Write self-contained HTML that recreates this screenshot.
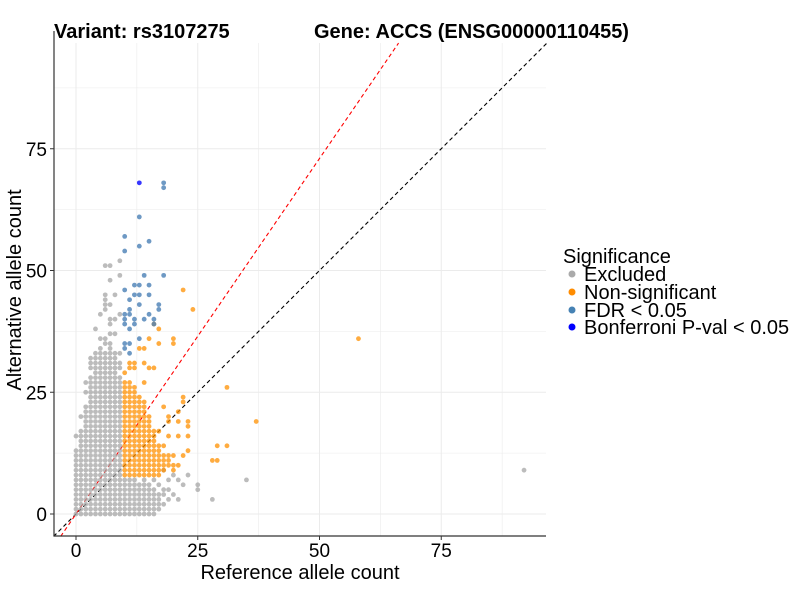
<!DOCTYPE html>
<html><head><meta charset="utf-8"><style>
body{margin:0;background:#fff;}
svg{display:block;font-family:"Liberation Sans",Arial,sans-serif;}
</style></head><body>
<svg id="chart" width="800" height="600" viewBox="0 0 800 600">
<rect width="800" height="600" fill="#fff"/>
<text x="54" y="38" font-size="20" font-weight="bold">Variant: rs3107275</text>
<text x="314" y="38" font-size="20" font-weight="bold">Gene: ACCS (ENSG00000110455)</text>
<g id="grid"></g>
<g id="lines"></g>
<g id="points"></g>
<g id="axes"></g>
<text x="300" y="579" font-size="20" text-anchor="middle">Reference allele count</text>
<text x="21" y="290" font-size="20" text-anchor="middle" transform="rotate(-90 21 290)">Alternative allele count</text>
<g>
<text x="563" y="263" font-size="20">Significance</text>
<g><circle cx="572" cy="274" r="3.5" fill="#aaaaaa"/><text x="584" y="281" font-size="20">Excluded</text></g>
<g><circle cx="572" cy="292" r="3.5" fill="#ff8c00"/><text x="584" y="299" font-size="20">Non-significant</text></g>
<g><circle cx="572" cy="310" r="3.5" fill="#4682b4"/><text x="584" y="317" font-size="20">FDR &lt; 0.05</text></g>
<g><circle cx="572" cy="327" r="3.5" fill="#0000ff"/><text x="584" y="334" font-size="20">Bonferroni P-val &lt; 0.05</text></g>
</g>
</svg>
<script>
// column-wise data: [refCount, [altCounts...]]
const greyCols = [
[0,[0,1,2,3,4,5,6,7,8,9,10,11,12,13,16]],
[1,[0,1,2,3,4,5,6,7,8,9,10,11,12,13,14,15,16,17,20]],
[2,[0,1,2,3,4,5,6,7,8,9,10,11,12,13,14,15,16,17,18,19,20,21,22,25,27]],
[3,[0,1,2,3,4,5,6,7,8,9,10,11,12,13,14,15,16,17,18,19,20,21,22,23,24,25,26,27,28,30,31,32]],
[4,[0,1,2,3,4,5,6,7,8,9,10,11,12,13,14,15,16,17,18,19,20,21,22,23,24,25,26,27,28,29,30,31,32,33,38]],
[5,[0,1,2,3,4,5,6,7,8,9,10,11,12,13,14,15,16,17,18,19,20,21,22,23,24,25,26,27,28,29,30,31,32,33,34,36,41]],
[6,[0,1,2,3,4,5,6,7,8,9,10,11,12,13,14,15,16,17,18,19,20,21,22,23,24,25,26,27,28,29,30,31,32,33,35,36,42,43,44,45,51]],
[7,[0,1,2,3,4,5,6,7,8,9,10,11,12,13,14,15,16,17,18,19,20,21,22,23,24,25,26,27,28,29,30,31,32,33,34,35,37,39,40,43,48,51]],
[8,[0,1,2,3,4,5,6,7,8,9,10,11,12,13,14,15,16,17,18,19,20,21,22,23,24,25,26,27,28,29,30,31,32,33,37,40,45]],
[9,[0,1,2,3,4,5,6,7,8,9,10,11,12,13,14,15,16,17,18,19,20,21,22,23,24,25,26,27,28,30,31,33,41,49,52]],
[10,[0,1,2,3,4,5,6,7]],[11,[0,1,2,3,4,5,6,7]],[12,[0,1,2,3,4,5,6,7]],
[13,[0,1,2,3,4,5,6]],[14,[0,1,2,3,4,5,6,7]],[15,[0,1,2,3,4,5,6]],
[16,[0,1,2,3,4,5,7]],[17,[1,2,3,4,6]],[18,[2,4,5,9]],[19,[3,5,7]],
[20,[4,8]],[21,[3,7]],[22,[6]],[23,[8]],[25,[5,6]],[28,[3]],[35,[7]],[92,[9]]
];
const orangeCols = [
[10,[8,9,10,11,12,13,14,15,16,17,18,19,20,21,22,23,24,25,26,27,29]],
[11,[8,9,10,11,12,13,14,15,16,17,18,19,20,21,22,23,24,25,26,27,30,31]],
[12,[8,9,10,11,12,13,14,15,16,17,18,19,20,21,22,23,24,25,26,30,31]],
[13,[8,9,10,11,12,13,14,15,16,17,18,19,20,21,22,23,24,34]],
[14,[8,9,10,11,12,13,14,15,16,17,18,19,20,21,22,23,27,31,34]],
[15,[8,9,10,11,12,13,14,15,16,17,18,19,20,30,36]],
[16,[8,9,10,11,12,13,14,15,16,17,30,39]],
[17,[8,9,10,11,12,13,14,17,35,38]],
[18,[9,10,11,12,14,22]],
[19,[10,11,12,16,19,20]],
[20,[9,10,12,35,36]],
[21,[10,16,19,21]],
[22,[12,23,24,46]],
[23,[13,16,18,19]],
[24,[42]],[28,[11]],[29,[11,14]],[31,[14,26]],[37,[19]],[58,[36]]
];
const fdrRef = [10,10,10,10,10,10,10,10,11,11,11,11,11,11,12,12,12,12,13,13,13,13,13,13,14,14,15,15,15,15,16,16,17,17,18,18,18];
const fdrAlt = [57,54,46,41,40,39,35,34,44,42,41,38,35,33,47,45,40,39,36,43,47,45,55,61,49,40,56,47,45,41,40,39,43,42,49,67,68];
const bonfRef = [13];
const bonfAlt = [68];
const xTicks = [0,25,50,75];
const yTicks = [0,25,50,75];
const redSlope = 1.46;

const NS='http://www.w3.org/2000/svg';
const L=54,R=546,T=43,B=536;
const sx=v=>76+v*4.87, sy=v=>514-v*4.87;
const xMin=-4.6,xMax=96.6,yMin=-4.6,yMax=96.7;
function mk(tag,attrs,parent){const e=document.createElementNS(NS,tag);for(const k in attrs)e.setAttribute(k,attrs[k]);parent.appendChild(e);return e;}
const grid=document.getElementById('grid');
for(let v=-12.5; v<=100; v+=12.5){
  if(v>=xMin&&v<=xMax){const l=mk('line',{x1:sx(v),x2:sx(v),y1:T,y2:B,stroke:'#ebebeb','stroke-width':v%25===0?1:0.6},grid);
  
  }
  if(v>=yMin&&v<=yMax){const l=mk('line',{x1:L,x2:R,y1:sy(v),y2:sy(v),stroke:'#ebebeb','stroke-width':v%25===0?1:0.6},grid);
  
  }
}
const lines=document.getElementById('lines');
const bl=mk('line',{x1:sx(xMin),y1:sy(xMin),x2:sx(xMax),y2:sy(xMax),stroke:'#000','stroke-width':1.1,'stroke-dasharray':'4 3'},lines);


const rx0=yMin/redSlope, rx1=yMax/redSlope;
const rl=mk('line',{x1:sx(rx0),y1:sy(yMin),x2:sx(rx1),y2:sy(yMax),stroke:'#ff0000','stroke-width':1.1,'stroke-dasharray':'4 3'},lines);


const pts=document.getElementById('points');
function dot(x,y,fill,op,name){const c=mk('circle',{cx:sx(x),cy:sy(y),r:2.4,fill:fill,'fill-opacity':op},pts);

}
greyCols.forEach(([x,ys])=>ys.forEach(y=>dot(x,y,'#a6a6a6',0.75,'point-excluded')));
orangeCols.forEach(([x,ys])=>ys.forEach(y=>dot(x,y,'#ff9000',0.75,'point-nonsig')));
fdrRef.forEach((x,i)=>dot(x,fdrAlt[i],'#4a7fb5',0.8,'point-fdr'));
bonfRef.forEach((x,i)=>dot(x,bonfAlt[i],'#2020ff',0.9,'point-bonferroni'));
const axes=document.getElementById('axes');
mk('line',{x1:L,x2:L,y1:T-12,y2:B,stroke:'#333','stroke-width':1.2},axes);
mk('line',{x1:L,x2:R,y1:B,y2:B,stroke:'#333','stroke-width':1.2},axes);
xTicks.forEach(v=>{mk('line',{x1:sx(v),x2:sx(v),y1:B,y2:B+4,stroke:'#333'},axes);
 const t=mk('text',{x:sx(v),y:B+21,'font-size':19,'text-anchor':'middle',fill:'#000'},axes);t.textContent=v;
 
 });
yTicks.forEach(v=>{mk('line',{x1:L-4,x2:L,y1:sy(v),y2:sy(v),stroke:'#333'},axes);
 const t=mk('text',{x:L-7,y:sy(v)+7,'font-size':19,'text-anchor':'end',fill:'#000'},axes);t.textContent=v;
 
 });
</script>
</body></html>
